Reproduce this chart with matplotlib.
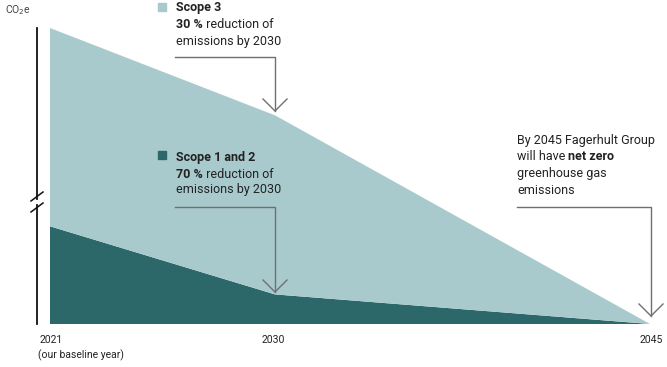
import matplotlib
matplotlib.use("Agg")
import matplotlib.pyplot as plt
from matplotlib.lines import Line2D
from matplotlib.patches import Rectangle

# ---- data ----
years = [2021, 2030, 2045]
scope12 = [33, 10, 0]
scope3 = [67, 60.5, 0]
tick_labels = ["2021", "2030", "2045"]

LIGHT = "#a9cacd"
DARK = "#2c6769"
TXT = "#222222"
GREY = "#707070"
FONT = "Roboto"
FS = 9

W, H = 667, 367
fig = plt.figure(figsize=(W / 100, H / 100), dpi=100)
fig.patch.set_facecolor("white")

def fx(px):
    return px / W

def fy(py):
    return 1 - py / H

ax = fig.add_axes([fx(50), fy(324), fx(650) - fx(50), fy(28) - fy(324)])
ax.stackplot(years, scope12, scope3, colors=[DARK, LIGHT], linewidth=0)
ax.set_xlim(2021, 2045)
ax.set_ylim(0, 100)
ax.axis("off")

# left axis with break
for (y0, y1) in [(28, 199), (205, 324)]:
    fig.add_artist(Line2D([fx(37), fx(37)], [fy(y0), fy(y1)], color="#111111", lw=1.3))
for yc in [196.5, 207.5]:
    fig.add_artist(Line2D([fx(31), fx(43)], [fy(yc + 4.5), fy(yc - 4.5)], color="#111111", lw=1.1))

fig.text(fx(5), fy(10), "CO$_2$e", fontsize=7.5, color="#444444", family=FONT, va="center")

# x tick labels
tick_px = [40, 262, 640]
for lab, px in zip(tick_labels, tick_px):
    fig.text(fx(px), fy(340), lab, fontsize=7.5, color=TXT, family=FONT, va="center")
fig.text(fx(38), fy(355), "(our baseline year)", fontsize=7.5, color=TXT, family=FONT, va="center")

fig.canvas.draw()
renderer = fig.canvas.get_renderer()

def rich_line(x_px, y_px, parts):
    x = x_px
    for s, bold in parts:
        t = fig.text(fx(x), fy(y_px), s, fontsize=FS, color=TXT, family=FONT,
                     fontweight="bold" if bold else "normal", va="center")
        bb = t.get_window_extent(renderer=renderer)
        x += bb.width

def square(x_px, y_px, color):
    fig.add_artist(Rectangle((fx(x_px), fy(y_px + 8)), fx(8), 8 / H, color=color,
                             transform=fig.transFigure))

def arrow_path(x0, y0, x1, ytip):
    fig.add_artist(Line2D([fx(x0), fx(x1), fx(x1)], [fy(y0), fy(y0), fy(ytip)], color=GREY, lw=1.0))
    fig.add_artist(Line2D([fx(x1 - 12), fx(x1), fx(x1 + 12)],
                          [fy(ytip - 12), fy(ytip), fy(ytip - 12)], color=GREY, lw=1.0))

# Scope 3
square(158, 3, LIGHT)
rich_line(176, 8, [("Scope 3", True)])
rich_line(176, 25, [("30 %", True), (" reduction of", False)])
rich_line(176, 42, [("emissions by 2030", False)])
arrow_path(175, 57, 275, 111)

# Scope 1 and 2
square(158, 151, DARK)
rich_line(176, 157, [("Scope 1 and 2", True)])
rich_line(176, 174, [("70 %", True), (" reduction of", False)])
rich_line(176, 190, [("emissions by 2030", False)])
arrow_path(175, 207, 275, 292)

# 2045
rich_line(517, 140, [("By 2045 Fagerhult Group", False)])
rich_line(517, 157, [("will have ", False), ("net zero", True)])
rich_line(517, 174, [("greenhouse gas", False)])
rich_line(517, 191, [("emissions", False)])
arrow_path(517, 207, 651, 316)

fig.savefig("out.png", dpi=100, facecolor="white")
